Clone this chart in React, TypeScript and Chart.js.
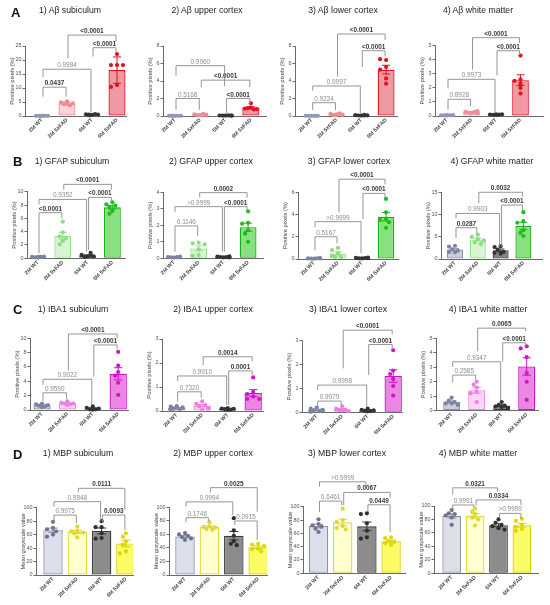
import React, { useEffect, useRef } from "react";
import { Chart, registerables } from "chart.js";

Chart.register(...registerables);

const FONT = '"Liberation Sans", Arial, Helvetica, sans-serif';

const GROUPS = ["2M WT", "2M 5xFAD", "6M WT", "6M 5xFAD"];
const ROW_LETTERS = ["A", "B", "C", "D"];
const TITLES_A = ["1) Aβ subiculum", "2) Aβ upper cortex", "3) Aβ lower cortex", "4) Aβ white matter"];
const TITLES_B = ["1) GFAP subiculum", "2) GFAP upper cortex", "3) GFAP lower cortex", "4) GFAP white matter"];
const TITLES_C = ["1) IBA1 subiculum", "2) IBA1 upper cortex", "3) IBA1 lower cortex", "4) IBA1 white matter"];
const TITLES_D = ["1) MBP subiculum", "2) MBP upper cortex", "3) MBP lower cortex", "4) MBP white matter"];
const Y_TITLE_PIX = "Positive pixels (%)";
const Y_TITLE_MBP = "Mean grayscale value";

// ---------- Row A: Aβ ----------
const A_MEAN = [[0.05, 4.5, 0.5, 16.4], [0.02, 0.15, 0.05, 0.95], [0.02, 0.18, 0.08, 5.3], [0.05, 0.27, 0.1, 2.55]];
const A_ERR = [[0.01, 0.5, 0.14, 4.7], [0.01, 0.03, 0.01, 0.11], [0.005, 0.03, 0.01, 0.5], [0.01, 0.03, 0.01, 0.38]];
const A_PTS = [
  [[0.04, 0.05, 0.05, 0.04, 0.06, 0.05], [5.2, 4.9, 4.5, 4.2, 3.8, 4.4], [0.4, 0.6, 0.5, 0.7, 0.3, 0.5], [22.1, 18.2, 18.2, 18.2, 11.1, 10.4]],
  [[0.02, 0.03, 0.02, 0.01, 0.02, 0.03], [0.1, 0.2, 0.15, 0.25, 0.1, 0.12], [0.05, 0.06, 0.04, 0.07, 0.05, 0.06], [1.45, 0.95, 0.85, 0.8, 0.9, 0.75]],
  [[0.02, 0.03, 0.02, 0.03, 0.02, 0.02], [0.1, 0.25, 0.15, 0.3, 0.1, 0.2], [0.05, 0.1, 0.08, 0.12, 0.06, 0.07], [6.4, 6.5, 5.6, 5.3, 4.3, 3.7]],
  [[0.04, 0.05, 0.06, 0.05, 0.04, 0.06], [0.2, 0.3, 0.35, 0.25, 0.3, 0.2], [0.08, 0.1, 0.12, 0.1, 0.09, 0.11], [4.3, 2.6, 2.5, 2.3, 2.0, 1.6]],
];
const A_YMAX = [25, 8, 8, 5];
const A_STEP = [5, 2, 2, 1];
const A_P = [
  ["0.0437", "0.9984", "<0.0001", "<0.0001"],
  ["0.5168", "<0.0001", "<0.0001", "0.9960"],
  ["0.9224", "0.9997", "<0.0001", "<0.0001"],
  ["0.8928", "0.9973", "<0.0001", "<0.0001"],
];

// ---------- Row B: GFAP ----------
const B_MEAN = [[0.18, 3.4, 0.42, 7.65], [0.07, 0.6, 0.08, 1.88], [0.05, 0.5, 0.08, 3.8], [2.17, 4.4, 1.98, 7.5]];
const B_ERR = [[0.03, 0.5, 0.09, 0.27], [0.01, 0.15, 0.01, 0.25], [0.01, 0.14, 0.01, 0.38], [0.25, 0.3, 0.28, 0.8]];
const B_PTS = [
  [[0.1, 0.2, 0.25, 0.15, 0.2, 0.2], [5.5, 3.9, 3.3, 3.0, 2.6, 2.1], [0.3, 0.5, 0.8, 0.3, 0.2, 0.4], [8.4, 8.1, 7.9, 7.7, 7.1, 6.7]],
  [[0.05, 0.08, 0.1, 0.06, 0.07, 0.05], [0.95, 0.9, 0.85, 0.55, 0.2, 0.15], [0.06, 0.1, 0.12, 0.08, 0.07, 0.05], [2.85, 2.15, 2.1, 1.7, 1.5, 1.0]],
  [[0.03, 0.05, 0.08, 0.04, 0.06, 0.05], [1.0, 0.8, 0.5, 0.3, 0.2, 0.2], [0.05, 0.1, 0.12, 0.08, 0.06, 0.07], [5.4, 4.2, 3.6, 3.5, 3.3, 2.8]],
  [[3.0, 2.8, 2.2, 1.9, 1.6, 1.5], [5.5, 5.0, 4.5, 4.2, 3.8, 3.4], [2.9, 2.7, 2.1, 1.6, 1.4, 1.2], [10.6, 8.6, 8.2, 6.5, 5.9, 5.2]],
];
const B_YMAX = [10, 4, 6, 15];
const B_STEP = [2, 1, 2, 5];
const B_P = [
  ["<0.0001", "0.9352", "<0.0001", "<0.0001"],
  ["0.1146", ">0.9999", "<0.0001", "0.0002"],
  ["0.5167", ">0.9999", "<0.0001", "<0.0001"],
  ["0.0287", "0.9903", "<0.0001", "0.0032"],
];

// ---------- Row C: IBA1 ----------
const C_MEAN = [[0.65, 0.92, 0.21, 5.05], [0.13, 0.22, 0.08, 0.75], [0.1, 0.12, 0.08, 1.52], [0.6, 1.42, 0.35, 3.05]];
const C_ERR = [[0.08, 0.07, 0.07, 0.85], [0.02, 0.05, 0.01, 0.14], [0.03, 0.03, 0.02, 0.26], [0.07, 0.2, 0.06, 0.6]];
const C_PTS = [
  [[0.9, 0.8, 0.7, 0.6, 0.5, 0.4], [1.2, 1.0, 0.9, 0.9, 0.8, 0.7], [0.5, 0.3, 0.2, 0.1, 0.1, 0.05], [8.1, 6.2, 5.3, 4.8, 3.8, 2.1]],
  [[0.2, 0.18, 0.15, 0.1, 0.08, 0.05], [0.4, 0.3, 0.25, 0.2, 0.1, 0.05], [0.12, 0.1, 0.09, 0.08, 0.06, 0.05], [1.4, 0.8, 0.7, 0.6, 0.5, 0.5]],
  [[0.2, 0.15, 0.1, 0.08, 0.05, 0.02], [0.25, 0.15, 0.1, 0.1, 0.08, 0.05], [0.15, 0.1, 0.08, 0.06, 0.05, 0.04], [2.6, 1.75, 1.6, 1.4, 1.1, 0.7]],
  [[0.9, 0.7, 0.6, 0.5, 0.5, 0.4], [2.0, 1.8, 1.6, 1.3, 1.2, 0.6], [0.6, 0.4, 0.35, 0.3, 0.25, 0.2], [4.45, 4.3, 3.7, 2.6, 2.0, 0.75]],
];
const C_YMAX = [10, 3, 3, 5];
const C_STEP = [2, 1, 1, 1];
const C_P = [
  ["0.9590", "0.9022", "<0.0001", "<0.0001"],
  ["0.7320", "0.9910", "0.0001", "0.0014"],
  ["0.9979", "0.9998", "<0.0001", "<0.0001"],
  ["0.2585", "0.9347", "<0.0001", "0.0065"],
];

// ---------- Row D: MBP ----------
const D_MEAN = [[66.5, 64, 65.5, 46.8], [57, 71, 58, 41], [71, 76.5, 70.5, 48.3], [85.3, 85, 71.5, 71.5]];
const D_ERR = [[3.2, 2.2, 4.3, 4.9], [1.5, 1.7, 6.2, 1.8], [2.7, 4.7, 6.5, 1.7], [3.2, 3.8, 2.2, 2.8]];
const D_PTS = [
  [[79, 70, 68, 65, 60, 57], [72, 66, 65, 63, 62, 56], [80, 71, 71, 62, 55, 54], [62, 57, 50, 45, 35, 32]],
  [[62, 60, 58, 56, 54, 52], [78, 72, 71, 70, 68, 67], [84, 66, 58, 50, 46, 44], [46, 45, 43, 39, 38, 35]],
  [[81, 74, 72, 70, 67, 62], [97, 80, 77, 71, 68, 66], [90, 89, 75, 64, 54, 52], [54, 53, 48, 47, 45, 43]],
  [[94, 89, 88, 86, 83, 72], [96, 92, 88, 83, 80, 71], [80, 75, 72, 70, 67, 65], [81, 78, 72, 69, 66, 63]],
];
const D_YMAX = [100, 100, 100, 100];
const D_STEP = [20, 20, 20, 20];
const D_P = [
  ["0.9975", "0.9848", "0.0093", "0.0111"],
  ["0.1746", "0.9994", "0.0915", "0.0025"],
  ["0.6461", ">0.9999", "0.0449", "0.0067"],
  ["0.9991", "0.0321", ">0.9999", "0.0334"],
];

// ---------- Layout (not data): bracket geometry in axis units [from, to, top, leftLegEnd, rightLegEnd] ----------
const A_BRK = [
  [[0, 1, 10.3, 6.9, 6.9], [0, 2, 16.7, 13.9, 1.4], [2, 3, 24.4, 21.2, 22.5], [1, 3, 28.9, 20.6, 26.5]],
  [[0, 1, 2.0, 0.7, 0.7], [2, 3, 2.0, 0.3, 1.3], [1, 3, 4.1, 3.3, 3.3], [0, 2, 5.75, 4.6, 3.4]],
  [[0, 1, 1.52, 0.69, 0.69], [0, 2, 3.43, 2.9, 0.3], [2, 3, 7.46, 5.6, 6.8], [1, 3, 9.37, 4.5, 8.7]],
  [[0, 1, 1.19, 0.45, 0.71], [0, 2, 2.61, 1.97, 0.2], [2, 3, 4.64, 2.9, 4.33], [1, 3, 5.57, 3.3, 5.2]],
];
const B_BRK = [
  [[0, 1, 6.85, 0.75, 6.0], [0, 2, 8.84, 8.1, 1.0], [2, 3, 9.15, 1.25, 8.25], [1, 3, 11.1, 10.3, 10.3]],
  [[0, 1, 1.96, 0.4, 1.35], [0, 2, 3.13, 2.82, 0.4], [2, 3, 3.13, 0.4, 2.93], [1, 3, 3.98, 3.7, 3.67]],
  [[0, 1, 2.0, 0.8, 1.4], [0, 2, 3.36, 2.85, 0.5], [2, 3, 5.9, 3.6, 5.5], [1, 3, 7.18, 4.2, 6.73]],
  [[0, 1, 7.08, 4.68, 5.8], [0, 2, 10.3, 9.2, 2.8], [2, 3, 12.2, 2.8, 11.1], [1, 3, 15.1, 12.6, 14.1]],
];
const C_BRK = [
  [[0, 1, 2.4, 1.26, 1.53], [0, 2, 4.28, 3.49, 0.7], [2, 3, 9.07, 4.65, 8.5], [1, 3, 10.6, 5.5, 10.0]],
  [[0, 1, 0.8, 0.39, 0.55], [0, 2, 1.46, 1.25, 0.25], [2, 3, 1.67, 0.25, 1.5], [1, 3, 2.26, 1.92, 2.08]],
  [[0, 1, 0.47, 0.24, 0.28], [0, 2, 1.14, 0.93, 0.24], [2, 3, 2.84, 1.56, 2.65], [1, 3, 3.44, 1.84, 3.26]],
  [[0, 1, 2.46, 1.96, 2.12], [0, 2, 3.38, 3.03, 0.74], [2, 3, 4.69, 3.4, 4.44], [1, 3, 5.7, 4.1, 5.48]],
];
const D_BRK = [
  [[0, 1, 89, 80, 77], [0, 2, 109, 101.5, 80], [2, 3, 89, 77, 67], [1, 3, 128.8, 123, 96.6]],
  [[0, 1, 84.7, 77.8, 79.8], [0, 2, 108, 101, 88.6], [2, 3, 79.8, 73.9, 51.7], [1, 3, 129, 122, 93.5]],
  [[0, 1, 108.4, 92, 102], [0, 2, 137.3, 130, 130], [2, 3, 102.9, 92, 62], [1, 3, 121.4, 102.4, 113.4]],
  [[0, 1, 101.5, 94, 97.5], [0, 2, 127, 117, 121], [2, 3, 89, 81.7, 81.7], [1, 3, 109, 101.5, 101.5]],
];

// panel geometry: [cellLeft, cellTop, cellW, cellH, axisLeft, axisRight, plotTop, zeroY, firstBarX, barSpacing, barFrac]
const GEOM = [
  [0, 0, 137, 150, 25, 126, 46, 116, 42, 25, 0.68],
  [137, 0, 138, 150, 163, 266, 46, 116, 175, 25.3, 0.68],
  [275, 0, 137, 150, 295, 397, 46, 116, 311.7, 24.8, 0.68],
  [412, 0, 138, 150, 435, 543, 45.7, 116, 447, 24.5, 0.68],
  [0, 150, 137, 145, 27, 125, 191.7, 258.3, 38, 24.8, 0.68],
  [137, 150, 138, 145, 163, 263, 192.3, 258.3, 174, 24.7, 0.68],
  [275, 150, 137, 145, 298, 398, 192.3, 259, 314, 24, 0.68],
  [412, 150, 138, 145, 441, 542, 192.7, 259, 455, 22.8, 0.7],
  [0, 295, 137, 150, 30, 128, 338.3, 410, 42, 25.4, 0.68],
  [137, 295, 138, 150, 162, 263, 339, 411, 176.7, 25.5, 0.68],
  [275, 295, 137, 150, 302, 402, 340.7, 412.3, 316.7, 25.5, 0.68],
  [412, 295, 138, 150, 436, 538, 338.3, 410.7, 451.7, 25, 0.68],
  [0, 445, 137, 160, 36, 133, 507.7, 575, 53, 24.3, 0.8],
  [137, 445, 138, 160, 169, 267, 507.3, 575, 185, 24.4, 0.8],
  [275, 445, 137, 160, 303, 405, 506.7, 573.3, 318.5, 24.2, 0.8],
  [412, 445, 138, 160, 434, 538, 506, 573.3, 451.7, 23.4, 0.8],
];

const TITLE_POS = [
  [70, 4.5], [207, 4.5], [343, 4.5], [478, 4.5],
  [72, 156], [211, 156], [349, 156], [492, 156],
  [73, 304], [213, 304], [348, 304], [488, 304],
  [78, 447.5], [213, 447.5], [347, 447.5], [478, 447.5],
];
const LETTER_POS = [[11, 6], [13, 155.3], [13, 303.3], [13, 448.3]];

const ROW_COLORS = [
  { fill: ["#dcdee9", "#fbd3d8", "#86868b", "#ef9aa3"], border: ["#8b90aa", "#f08a96", "#3b3b3b", "#e0101e"], point: ["#9097b3", "#f08a96", "#333333", "#e3101e"] },
  { fill: ["#c9ccd9", "#d8f4d2", "#86868b", "#88e080"], border: ["#8b90aa", "#96e08c", "#3b3b3b", "#16b016"], point: ["#7d84a2", "#8cdc82", "#333333", "#18c018"] },
  { fill: ["#c9ccd9", "#fcd4f6", "#86868b", "#eb86e3"], border: ["#8b90aa", "#f088e3", "#3b3b3b", "#cc10c6"], point: ["#7d84a2", "#f07ee2", "#333333", "#d414cc"] },
  { fill: ["#dcdee9", "#ffffd0", "#8c8c8c", "#fbfb66"], border: ["#8b90aa", "#e2da3a", "#3b3b3b", "#d6d400"], point: ["#6e7490", "#e0d830", "#2f2f2f", "#dcd800"] },
];

type Spec = {
  geom: number[];
  mean: number[];
  err: number[];
  pts: number[][];
  ymax: number;
  step: number;
  brk: number[][];
  pv: string[];
  colors: { fill: string[]; border: string[]; point: string[] };
  yTitle: string;
};

const ROWS = [
  { mean: A_MEAN, err: A_ERR, pts: A_PTS, ymax: A_YMAX, step: A_STEP, brk: A_BRK, pv: A_P, yTitle: Y_TITLE_PIX },
  { mean: B_MEAN, err: B_ERR, pts: B_PTS, ymax: B_YMAX, step: B_STEP, brk: B_BRK, pv: B_P, yTitle: Y_TITLE_PIX },
  { mean: C_MEAN, err: C_ERR, pts: C_PTS, ymax: C_YMAX, step: C_STEP, brk: C_BRK, pv: C_P, yTitle: Y_TITLE_PIX },
  { mean: D_MEAN, err: D_ERR, pts: D_PTS, ymax: D_YMAX, step: D_STEP, brk: D_BRK, pv: D_P, yTitle: Y_TITLE_MBP },
];
const TITLES = [TITLES_A, TITLES_B, TITLES_C, TITLES_D];

const SPECS: Spec[] = [];
ROWS.forEach((r, ri) => {
  for (let k = 0; k < 4; k++) {
    SPECS.push({
      geom: GEOM[ri * 4 + k],
      mean: r.mean[k],
      err: r.err[k],
      pts: r.pts[k],
      ymax: r.ymax[k],
      step: r.step[k],
      brk: r.brk[k],
      pv: r.pv[k],
      colors: ROW_COLORS[ri],
      yTitle: r.yTitle,
    });
  }
});

function isSig(label: string) {
  if (label.startsWith("<")) return true;
  if (label.startsWith(">")) return false;
  return parseFloat(label) < 0.05;
}

function Panel({ spec }: { spec: Spec }) {
  const ref = useRef<HTMLCanvasElement>(null);
  const [cl, ct, cw, ch] = spec.geom;

  useEffect(() => {
    const { geom, mean, err, pts, ymax, step, brk, pv, colors, yTitle } = spec;
    const [cl, ct, cw, ch, L, R, T, Z, c1, sp, bp] = geom;
    const xmin = (L - c1) / sp;
    const xmax = (R - c1) / sp;
    const bw = sp * bp;
    const pxPerUnit = (Z - T) / ymax;

    // simple beeswarm placement of the points inside each bar
    const scatter: { x: number; y: number }[] = [];
    const scatterColors: string[] = [];
    const lim = bw / 2 - 1.8;
    const cands = [0, -3, 3, -6, 6, -9, 9].filter((o) => Math.abs(o) <= lim);
    pts.forEach((group, gi) => {
      const placed: [number, number][] = [];
      group.forEach((v) => {
        const yp = v * pxPerUnit;
        let best = 0;
        let bestD = -1;
        for (const o of cands) {
          let d = Infinity;
          for (const [px, py] of placed) d = Math.min(d, Math.hypot(px - o, py - yp));
          if (d >= 4) {
            best = o;
            bestD = d;
            break;
          }
          if (d > bestD) {
            bestD = d;
            best = o;
          }
        }
        placed.push([best, yp]);
        scatter.push({ x: gi + best / sp, y: v });
        scatterColors.push(colors.point[gi]);
      });
    });

    const errPlugin = {
      id: "errbars",
      afterDatasetDraw(chart: any, args: any) {
        if (args.index !== 0) return;
        const { ctx } = chart;
        const xs = chart.scales.x;
        const ys = chart.scales.y;
        const cap = bw * 0.24;
        ctx.save();
        ctx.lineWidth = 1;
        mean.forEach((m, i) => {
          const px = xs.getPixelForValue(i);
          const yTop = ys.getPixelForValue(m + err[i]);
          const yBot = ys.getPixelForValue(Math.max(0, m - err[i]));
          ctx.strokeStyle = colors.border[i];
          ctx.beginPath();
          ctx.moveTo(px, yBot);
          ctx.lineTo(px, yTop);
          ctx.moveTo(px - cap, yTop);
          ctx.lineTo(px + cap, yTop);
          ctx.moveTo(px - cap, yBot);
          ctx.lineTo(px + cap, yBot);
          ctx.stroke();
        });
        ctx.restore();
      },
    };

    const bracketPlugin = {
      id: "brackets",
      afterDraw(chart: any) {
        const { ctx } = chart;
        const xs = chart.scales.x;
        const ys = chart.scales.y;
        ctx.save();
        ctx.lineWidth = 0.9;
        ctx.strokeStyle = "#8a8a8a";
        brk.forEach((b, bi) => {
          const [i, j, top, lb, rb] = b;
          const label = pv[bi];
          const xi = xs.getPixelForValue(i) + 1;
          const xj = xs.getPixelForValue(j) - 1;
          const yt = ys.getPixelForValue(top);
          const yl = ys.getPixelForValue(lb);
          const yr = ys.getPixelForValue(rb);
          ctx.beginPath();
          ctx.moveTo(xi, yl);
          ctx.lineTo(xi, yt);
          ctx.lineTo(xj, yt);
          ctx.lineTo(xj, yr);
          ctx.stroke();
          const sig = isSig(label);
          ctx.font = `${sig ? "bold " : ""}6.4px ${FONT}`;
          ctx.fillStyle = sig ? "#3a3a3a" : "#8e8e8e";
          ctx.textAlign = "center";
          ctx.textBaseline = "alphabetic";
          ctx.fillText(label, (xi + xj) / 2, yt - 2);
        });
        ctx.restore();
      },
    };

    const yTitleFont = 5.8;
    const chart = new Chart(ref.current as HTMLCanvasElement, {
      type: "bar",
      data: {
        datasets: [
          {
            type: "bar",
            data: mean.map((m, i) => ({ x: i, y: m })),
            backgroundColor: colors.fill,
            borderColor: colors.border,
            borderWidth: 1.3,
            borderSkipped: false,
            barPercentage: bp,
            categoryPercentage: 1,
          } as any,
          {
            type: "scatter",
            data: scatter,
            pointRadius: 2.1,
            pointBorderWidth: 0,
            pointBackgroundColor: scatterColors,
            order: -1,
            clip: false,
          } as any,
        ],
      },
      options: {
        animation: false,
        responsive: false,
        maintainAspectRatio: false,
        events: [],
        layout: { padding: { left: 0, top: T - ct, right: cl + cw - R, bottom: 0 } },
        plugins: { legend: { display: false }, tooltip: { enabled: false }, title: { display: false } },
        scales: {
          x: {
            type: "linear",
            min: xmin,
            max: xmax,
            offset: false,
            bounds: "data",
            afterBuildTicks: (s: any) => {
              s.ticks = GROUPS.map((_, i) => ({ value: i }));
            },
            afterFit: (s: any) => {
              s.height = ct + ch - Z;
            },
            ticks: {
              autoSkip: false,
              minRotation: 45,
              maxRotation: 45,
              padding: 1,
              color: "#4a4a4a",
              font: { family: FONT, size: 5.4, weight: "bold" },
              callback: (v: any) => GROUPS[Math.round(Number(v))] ?? "",
            },
            grid: { display: false, drawTicks: false, offset: false },
            border: { display: true, color: "#6a6a6a", width: 1 },
          },
          y: {
            type: "linear",
            min: 0,
            max: ymax,
            afterFit: (s: any) => {
              s.width = L - cl;
            },
            ticks: { stepSize: step, padding: 1, color: "#555", font: { family: FONT, size: 5.4 } },
            grid: { drawOnChartArea: false, drawTicks: true, tickLength: 2.5, color: "#6a6a6a" },
            border: { display: true, color: "#6a6a6a", width: 1 },
            title: {
              display: true,
              text: yTitle,
              color: "#444",
              font: { family: FONT, size: yTitleFont },
              padding: { top: Math.max(0, L - cl - 13 - yTitleFont * 0.6), bottom: 0 },
            },
          },
        },
      } as any,
      plugins: [errPlugin, bracketPlugin],
    });
    return () => chart.destroy();
  }, [spec]);

  return (
    <canvas
      ref={ref}
      width={cw}
      height={ch}
      style={{ position: "absolute", left: cl, top: ct, width: cw, height: ch }}
    />
  );
}

export default function App() {
  const titles = TITLES.flat();
  return (
    <div
      style={{
        position: "absolute",
        left: 0,
        top: 0,
        width: 550,
        height: 605,
        background: "#ffffff",
        overflow: "hidden",
        fontFamily: FONT,
      }}
    >
      {SPECS.map((s, i) => (
        <Panel key={i} spec={s} />
      ))}
      {titles.map((t, i) => (
        <div
          key={"t" + i}
          style={{
            position: "absolute",
            left: TITLE_POS[i][0] - 70,
            top: TITLE_POS[i][1],
            width: 140,
            textAlign: "center",
            fontSize: 8.7,
            lineHeight: "10px",
            color: "#222",
            whiteSpace: "nowrap",
          }}
        >
          {t}
        </div>
      ))}
      {ROW_LETTERS.map((l, i) => (
        <div
          key={"l" + i}
          style={{
            position: "absolute",
            left: LETTER_POS[i][0],
            top: LETTER_POS[i][1],
            fontSize: 13,
            lineHeight: "13px",
            fontWeight: "bold",
            color: "#111",
          }}
        >
          {l}
        </div>
      ))}
    </div>
  );
}
